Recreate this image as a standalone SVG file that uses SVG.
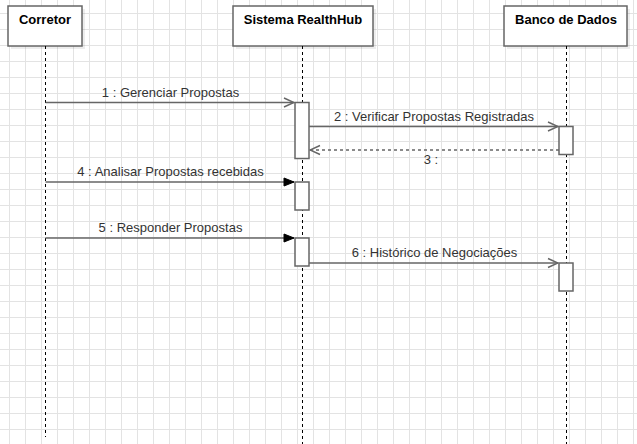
<svg xmlns="http://www.w3.org/2000/svg" width="637" height="444" viewBox="0 0 637 444">
<style>
.hdr{fill:#fff;stroke:#666;stroke-width:1.5}
.shadow{fill:#000;opacity:0.07}
.htxt{font-family:"Liberation Sans",Arial,sans-serif;font-size:13px;font-weight:bold;fill:#000;text-anchor:middle}
.life{stroke:#000;stroke-width:1;stroke-dasharray:3 3;fill:none}
.act{fill:#fff;stroke:#666;stroke-width:1.5}
.msg{stroke:#666;stroke-width:1.5;fill:none}
.ret{stroke:#666;stroke-width:1.5;fill:none;stroke-dasharray:3 3}
.lbl{font-family:"Liberation Sans",Arial,sans-serif;font-size:13px;fill:#333;text-anchor:middle}
</style>
<defs>
<pattern id="grid" x="9" y="13" width="16" height="16" patternUnits="userSpaceOnUse">
<path d="M0 0.5H16M0.5 0V16" stroke="#e3e3e3" stroke-width="1" fill="none"/>
</pattern>
<marker id="open" viewBox="0 0 12 12" refX="11" refY="6" markerWidth="12" markerHeight="12" markerUnits="userSpaceOnUse" orient="auto">
<path d="M1 1.5L11 6L1 10.5" fill="none" stroke="#666" stroke-width="1.5"/>
</marker>
<marker id="filled" viewBox="0 0 12 12" refX="11" refY="6" markerWidth="12" markerHeight="12" markerUnits="userSpaceOnUse" orient="auto">
<path d="M1 2L11 6L1 10Z" fill="#000" stroke="#000" stroke-width="1"/>
</marker>
</defs>
<rect width="637" height="444" fill="#fff"/>
<rect width="637" height="444" fill="url(#grid)"/>

<g id="corretor">
<rect class="shadow" x="11" y="9" width="74" height="40"/>
<rect class="hdr" x="8" y="6" width="74" height="40"/>
<text class="htxt" x="45" y="24">Corretor</text>
<line class="life" x1="45.5" y1="46" x2="45.5" y2="437"/>
</g>

<g id="sistema">
<rect class="shadow" x="236" y="9" width="140" height="40"/>
<rect class="hdr" x="233" y="6" width="140" height="40"/>
<text class="htxt" x="303" y="24">Sistema RealthHub</text>
<line class="life" x1="302.5" y1="46" x2="302.5" y2="444"/>
<rect class="act" x="295" y="102.5" width="14" height="56"/>
<rect class="act" x="295" y="182" width="14" height="28"/>
<rect class="act" x="295" y="238" width="14" height="28"/>
</g>

<g id="banco">
<rect class="shadow" x="507" y="9" width="123" height="40"/>
<rect class="hdr" x="504" y="6" width="123" height="40"/>
<text class="htxt" x="566" y="24">Banco de Dados</text>
<line class="life" x1="566.5" y1="46" x2="566.5" y2="444"/>
<rect class="act" x="559" y="126.5" width="14" height="28"/>
<rect class="act" x="559" y="263" width="14" height="28"/>
</g>

<g id="connectors">
<line class="msg" x1="45.5" y1="102.5" x2="294" y2="102.5" marker-end="url(#open)"/>
<text class="lbl" x="170.5" y="97">1 : Gerenciar Propostas</text>
<line class="msg" x1="309" y1="126.5" x2="558" y2="126.5" marker-end="url(#open)"/>
<text class="lbl" x="434" y="121">2 : Verificar Propostas Registradas</text>
<line class="ret" x1="559" y1="150" x2="310" y2="150" marker-end="url(#open)"/>
<text class="lbl" x="431" y="164">3 :</text>
<line class="msg" x1="45.5" y1="182" x2="294" y2="182" marker-end="url(#filled)"/>
<text class="lbl" x="170.5" y="176">4 : Analisar Propostas recebidas</text>
<line class="msg" x1="45.5" y1="238" x2="294" y2="238" marker-end="url(#filled)"/>
<text class="lbl" x="170.5" y="232">5 : Responder Propostas</text>
<line class="msg" x1="309" y1="263" x2="558" y2="263" marker-end="url(#open)"/>
<text class="lbl" x="434.5" y="257">6 : Histórico de Negociações</text>
</g>
</svg>
